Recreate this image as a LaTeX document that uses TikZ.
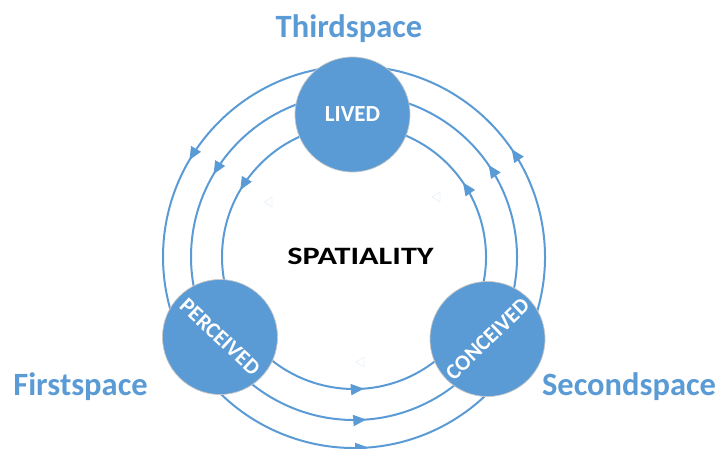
\documentclass[tikz,border=0pt]{standalone}
\usepackage{fontspec}
\setmainfont{Carlito}
\usetikzlibrary{arrows.meta,decorations.markings}
\definecolor{cblue}{HTML}{5B9BD5}
\pgfdeclarelayer{bg}
\pgfsetlayers{bg,main}
\begin{document}
\begin{tikzpicture}[x=1pt,y=1pt,
  ring/.style={draw=cblue, line width=2pt},
  arrowat/.style={postaction={decorate}, decoration={markings, mark=at position #1 with {\arrow{Triangle[width=11pt,length=13pt]}}}},
  spot/.style={circle, fill=cblue, draw=black!22, line width=0.7pt, minimum size=115pt, inner sep=0pt, text=white},
  spotfont/.style={font=\bfseries\fontsize{23}{23}\selectfont},
  rotfont/.style={font=\bfseries\fontsize{22}{22}\selectfont},
  lab/.style={text=cblue, font=\bfseries\fontsize{32.5}{32.5}\selectfont, anchor=base, inner sep=0pt},
  ghost/.style={draw=cblue!12, line width=0.8pt, line join=round}
]
\useasboundingbox (0,0) rectangle (717,448);
\coordinate (C) at (354,191);

% nodes
\node[spot, spotfont] (lived) at (352.5,333.5) {LIVED};
\node[spot] (perceived) at (220,111) {};
\node[spot] (conceived) at (487.5,109) {};
\node[text=white, rotfont, rotate=-43] (perclab) at (perceived.center) {PERCEIVED};
\node[text=white, rotfont, rotate=44] (conclab) at (conceived.center) {CONCEIVED};

% rings (behind the nodes)
\begin{pgfonlayer}{bg}
\foreach \r in {132,163,191} {
  \draw[ring, arrowat=0.49] (C) ++(90.6:\r) arc[start angle=90.6, end angle=210.8, radius=\r];
  \draw[ring, arrowat=0.54] (C) ++(210.8:\r) arc[start angle=210.8, end angle=328.4, radius=\r];
  \draw[ring, arrowat=0.54] (C) ++(328.4:\r) arc[start angle=328.4, end angle=450.6, radius=\r];
}
\end{pgfonlayer}

% faint ghost marks
\draw[ghost] (264,246) -- (272,251) -- (272,241) -- cycle;
\draw[ghost] (432,251) -- (440,256) -- (440,246) -- cycle;
\draw[ghost] (356,86) -- (364,91) -- (364,81) -- cycle;

% labels
\node[lab] (third) at (349,410) {Thirdspace};
\node[lab] (first) at (80.5,53) {Firstspace};
\node[lab] (second) at (629,53) {Secondspace};
\node[font=\bfseries\fontsize{25}{25}\selectfont, anchor=base, inner sep=0pt, xscale=1.29] (spat) at (360.5,184) {SPATIALITY};
\end{tikzpicture}
\end{document}
